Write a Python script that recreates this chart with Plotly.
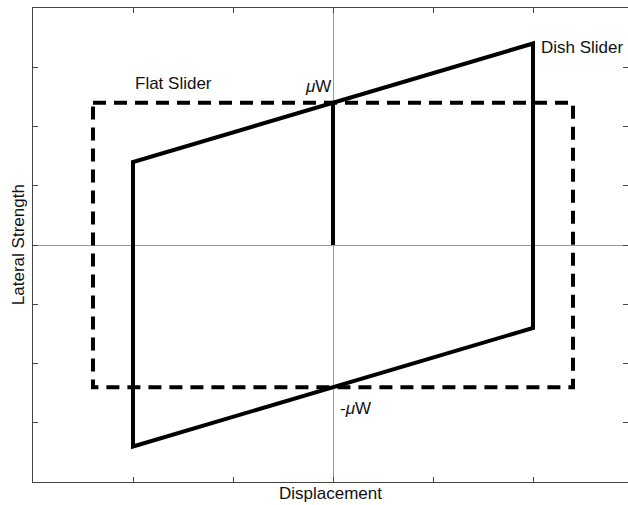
import plotly.graph_objects as go

# Data
dish_x = [0, 0, 2, 2, -2, -2, 2]
dish_y = [0, 2.4, 3.4, -1.4, -3.4, 1.4, 3.4]
flat_x = [-2.4, 2.4, 2.4, -2.4, -2.4]
flat_y = [2.4, 2.4, -2.4, -2.4, 2.4]
x_ticks = [-2, -1, 0, 1, 2]
y_ticks = [-3, -2, -1, 0, 1, 2, 3]

FONT = "Liberation Sans, Arial, Helvetica, sans-serif"

fig = go.Figure()
fig.add_trace(go.Scatter(x=flat_x, y=flat_y, mode="lines",
                         line=dict(color="black", width=4, dash="13px,8px"),
                         hoverinfo="skip"))
fig.add_trace(go.Scatter(x=dish_x, y=dish_y, mode="lines",
                         line=dict(color="black", width=4),
                         hoverinfo="skip"))

ann = dict(showarrow=False, font=dict(family=FONT, size=17, color="#111"))
fig.add_annotation(x=-2.0, y=2.72, text="Flat Slider", xanchor="left", yanchor="middle", **ann)
fig.add_annotation(x=2.06, y=3.34, text="Dish Slider", xanchor="left", yanchor="middle", **ann)
fig.add_annotation(x=-0.15, y=2.67, text="<i>μ</i>W", xanchor="center", yanchor="middle", **ann)
fig.add_annotation(x=0.22, y=-2.76, text="-<i>μ</i>W", xanchor="center", yanchor="middle", **ann)
fig.add_annotation(x=0.5, y=-0.025, xref="paper", yref="paper", text="Displacement",
                   xanchor="center", yanchor="middle", **ann)
fig.add_annotation(x=-0.025, y=0.5, xref="paper", yref="paper", text="Lateral Strength",
                   textangle=-90, xanchor="center", yanchor="middle", **ann)

fig.update_layout(
    width=628, height=505,
    margin=dict(l=33, r=0, t=8, b=23),
    paper_bgcolor="white", plot_bgcolor="white",
    showlegend=False,
    xaxis=dict(range=[-3, 2.95], tickvals=x_ticks, showticklabels=False,
               ticks="inside", ticklen=5, tickcolor="#444",
               showline=True, linecolor="#444", linewidth=1, mirror="allticks",
               showgrid=False, zeroline=True, zerolinecolor="#999", zerolinewidth=1),
    yaxis=dict(range=[-4, 4], tickvals=y_ticks, showticklabels=False,
               ticks="inside", ticklen=5, tickcolor="#444",
               showline=True, linecolor="#444", linewidth=1, mirror="allticks",
               showgrid=False, zeroline=True, zerolinecolor="#999", zerolinewidth=1),
)

fig.write_html("out.html")
